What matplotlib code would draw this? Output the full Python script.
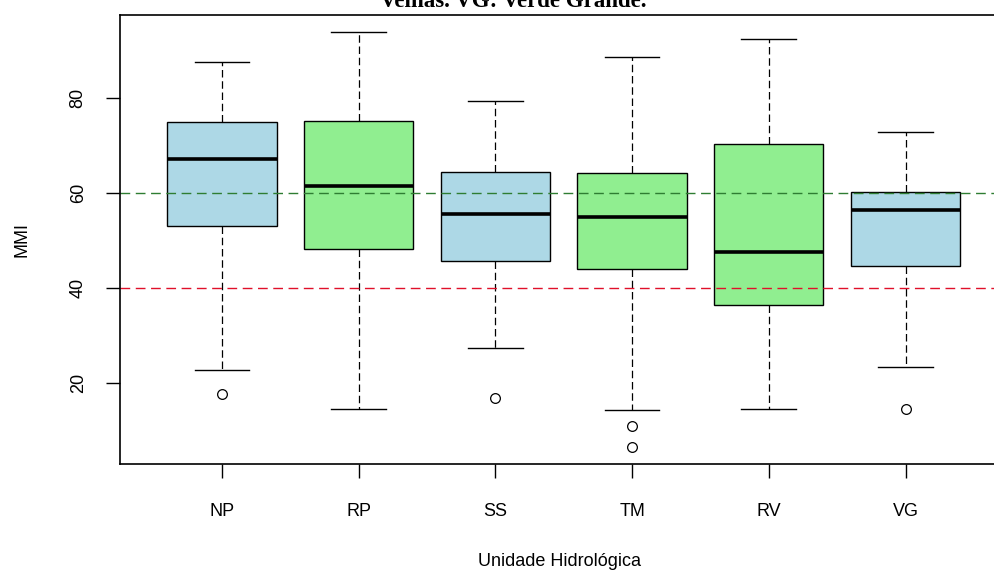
import matplotlib
matplotlib.use("Agg")
import matplotlib.pyplot as plt

# boxplot of MMI by hydrological unit, stats
unidades = ["NP", "RP", "SS", "TM", "RV", "VG"]
q1 = [53.0, 48.3, 45.7, 43.9, 36.3, 44.6]
mediana = [67.2, 61.4, 55.6, 55.0, 47.6, 56.5]
q3 = [74.9, 75.2, 64.5, 64.2, 70.4, 60.3]
whis_lo = [22.6, 14.5, 27.4, 14.2, 14.5, 23.4]
whis_hi = [87.7, 93.9, 79.4, 88.7, 92.5, 72.9]
outliers = [[17.7], [], [16.8], [10.95, 6.4], [], [14.5]]
cores = ["lightblue", "lightgreen", "lightblue", "lightgreen", "lightgreen", "lightblue"]

stats = []
for i in range(len(unidades)):
    stats.append({"med": mediana[i], "q1": q1[i], "q3": q3[i],
                  "whislo": whis_lo[i], "whishi": whis_hi[i],
                  "fliers": outliers[i], "label": unidades[i]})

plt.rcParams["font.family"] = ["Liberation Sans", "DejaVu Sans"]

fig = plt.figure(figsize=(9.94, 5.79), dpi=100)
W, H = 994.0, 579.0
ax = fig.add_axes([120 / W, 1 - 464 / H, 880 / W, 449 / H])

bp = ax.bxp(stats, positions=range(1, 7), widths=0.8, capwidths=0.4,
            patch_artist=True,
            boxprops=dict(edgecolor="black", linewidth=1.0),
            medianprops=dict(color="black", linewidth=2.6, solid_capstyle="butt"),
            whiskerprops=dict(color="black", linewidth=0.9, linestyle=(0, (6, 3))),
            capprops=dict(color="black", linewidth=1.0),
            flierprops=dict(marker="o", markerfacecolor="none", markeredgecolor="black",
                            markersize=7, markeredgewidth=0.9))
for patch, c in zip(bp["boxes"], cores):
    patch.set_facecolor(c)

ax.axhline(60, color="#2e7d32", linestyle=(0, (7, 4)), linewidth=1.0)
ax.axhline(40, color="#e0102a", linestyle=(0, (7, 4)), linewidth=1.0)

ax.set_xlim(1 - 102 / 136.7, 1 + (1000 - 222) / 136.7)
ax.set_ylim(2.9, 97.5)
ax.set_yticks([20, 40, 60, 80])
ax.set_xticks(range(1, 7))
ax.set_xticklabels(unidades)
for lab in ax.get_yticklabels():
    lab.set_rotation(90)
    lab.set_va("center")
ax.tick_params(axis="both", direction="out", length=10, width=1.0, labelsize=13, colors="black")
ax.tick_params(axis="x", pad=18)
ax.tick_params(axis="y", pad=14)
for s in ax.spines.values():
    s.set_linewidth(1.2)

ax.set_xlabel("Unidade Hidrológica", fontsize=13, labelpad=24)
ax.set_ylabel("MMI", fontsize=13, labelpad=28)

fig.text(513 / W, 1 - 7 / H, "Velhas. VG: Verde Grande.", ha="center", va="baseline",
         family="Liberation Serif", fontweight="bold", fontsize=16.5)

fig.savefig("out.png", dpi=100)
